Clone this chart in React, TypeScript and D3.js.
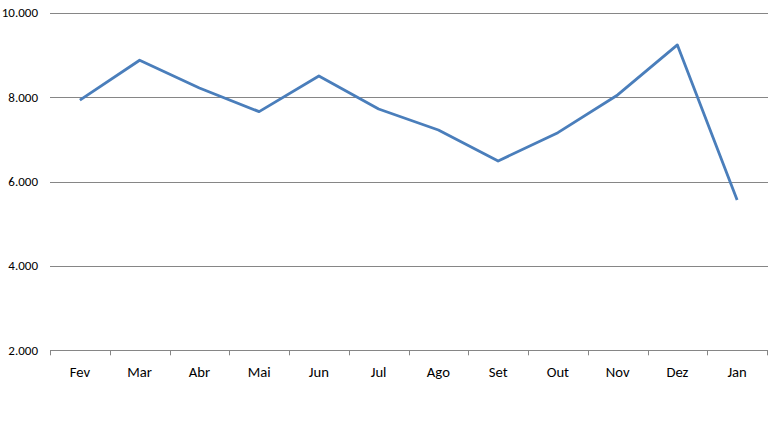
import React from "react";
import * as d3 from "d3";

const months = ["Fev", "Mar", "Abr", "Mai", "Jun", "Jul", "Ago", "Set", "Out", "Nov", "Dez", "Jan"];
const values = [7930, 8873, 8216, 7655, 8501, 7719, 7221, 6486, 7157, 8051, 9236, 5562];
const yTicks = [2000, 4000, 6000, 8000, 10000];

const W = 768;
const H = 422;
const left = 50;
const right = 767;
const top = 12.7;
const bottom = 350.3;

export default function App() {
  const x = d3.scaleBand<string>().domain(months).range([left, right]).padding(0);
  const y = d3.scaleLinear().domain([2000, 10000]).range([bottom, top]);
  const fmt = (v: number) => d3.format(",")(v).replace(/,/g, ".");
  const line = d3
    .line<number>()
    .x((_, i) => (x(months[i]) as number) + x.bandwidth() / 2)
    .y((d) => y(d));
  const boundaries = months.map((m) => x(m) as number).concat([right]);

  return (
    <svg
      width={W}
      height={H}
      style={{ position: "absolute", left: 0, top: 0, background: "#fff" }}
      fontFamily="Carlito, Calibri, 'Liberation Sans', Arial, sans-serif"
    >
      {yTicks.map((t) => (
        <g key={t}>
          <line x1={left} x2={right + 1} y1={Math.round(y(t)) + 0.5} y2={Math.round(y(t)) + 0.5} stroke="#868686" strokeWidth={1} />
          <text x={38} y={y(t)} dy="0.35em" textAnchor="end" fontSize={13} fill="#000">
            {fmt(t)}
          </text>
        </g>
      ))}
      {boundaries.map((b, i) => (
        <line key={i} x1={Math.round(b) + 0.5} x2={Math.round(b) + 0.5} y1={bottom} y2={bottom + 5} stroke="#868686" strokeWidth={1} />
      ))}
      {months.map((m) => (
        <text key={m} x={(x(m) as number) + x.bandwidth() / 2} y={377} textAnchor="middle" fontSize={14.67} fill="#000">
          {m}
        </text>
      ))}
      <path d={line(values) || ""} fill="none" stroke="#4A7EBB" strokeWidth={2.8} strokeLinejoin="round" />
    </svg>
  );
}
